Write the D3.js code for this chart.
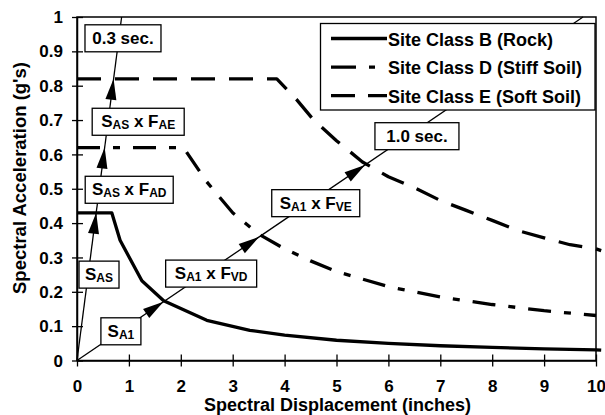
<!DOCTYPE html>
<html><head><meta charset="utf-8">
<script src="https://cdn.jsdelivr.net/npm/d3@7"></script>
<style>
html,body{margin:0;padding:0;background:#fff;}
svg{display:block;font-family:"Liberation Sans",Arial,Helvetica,sans-serif;font-weight:bold;}
</style></head><body>
<svg id="chart" width="605" height="415"></svg>
<script>
// ---------- data ----------
const xTicks = [0,1,2,3,4,5,6,7,8,9,10];
const yTicks = [0,0.1,0.2,0.3,0.4,0.5,0.6,0.7,0.8,0.9,1];
const yTickLabels = ["0","0.1","0.2","0.3","0.4","0.5","0.6","0.7","0.8","0.9","1"];

const seriesNames = ["Site Class B (Rock)","Site Class D (Stiff Soil)","Site Class E (Soft Soil)"];

// Site Class B (Rock)
const rockSd = [0,0.67,0.83,1.25,1.67,2.5,3.33,4,5,6,7,8,9,10,10.1];
const rockSa = [0.43,0.43,0.35,0.232,0.174,0.117,0.088,0.074,0.059,0.05,0.043,0.038,0.034,0.031,0.03];
// Site Class D (Stiff Soil)
const stiffSd = [0,2.05,2.5,3,3.5,4,4.5,5,6,7,8,9,10];
const stiffSa = [0.62,0.62,0.52,0.43,0.368,0.325,0.29,0.259,0.215,0.185,0.163,0.145,0.131];
// Site Class E (Soft Soil)
const softSd = [0,3.85,4.24,4.56,5,5.5,6,6.5,7,7.5,8,8.5,9,9.5,10,10.1];
const softSa = [0.82,0.82,0.758,0.70,0.64,0.578,0.535,0.503,0.466,0.437,0.408,0.378,0.357,0.337,0.325,0.32];

// constant-period radial lines
const period03Sd = [0,0.86];
const period03Sa = [0,1.0];
const period10Sd = [0,9.75];
const period10Sa = [0,1.0];

// arrow tips (on the period lines)
const arrowSd = [0.37,0.533,0.705,1.667,3.51,5.55];
const arrowSa = [0.43,0.62,0.82,0.171,0.36,0.569];

// annotation labels (text, anchor in data units)
const annoText = ["0.3 sec.","S_{AS} x F_{AE}","S_{AS} x F_{AD}","S_{AS}","S_{A1}","S_{A1} x F_{VD}","S_{A1} x F_{VE}","1.0 sec."];
const annoSd   = [0.886,1.179,1.006,0.424,0.846,2.585,4.6,6.55];
const annoSa   = [0.938,0.695,0.497,0.25,0.085,0.253,0.458,0.653];
const annoBoxW = [76,92,88,40,40,91,88,84];

// ---------- layout ----------
const svg = d3.select("#chart");
const L = 77, R = 596, T = 17, B = 360.5;
const x = d3.scaleLinear().domain([0,10]).range([L,R]);
const y = d3.scaleLinear().domain([0,1]).range([B,T]);

// frame
svg.append("rect").attr("x",L).attr("y",T).attr("width",R-L).attr("height",B-T)
  .attr("fill","none").attr("stroke","#000").attr("stroke-width",1.5);

// x axis
const gx = svg.append("g").attr("transform",`translate(0,${B})`)
  .call(d3.axisBottom(x).tickValues(xTicks).tickFormat(d3.format("d")).tickSizeOuter(0));
gx.attr("font-family",null).attr("font-size",null);
gx.select(".domain").attr("stroke-width",1.5);
gx.selectAll(".tick line").attr("y1",-6).attr("y2",6).attr("stroke-width",1.3);
gx.selectAll(".tick text").attr("y",31).attr("dy",0)
  .attr("font-size",17).attr("font-weight","bold").attr("fill","#000");

// y axis
const gy = svg.append("g").attr("transform",`translate(${L},0)`)
  .call(d3.axisLeft(y).tickValues(yTicks).tickFormat((d,i)=>yTickLabels[i]).tickSizeOuter(0));
gy.attr("font-family",null).attr("font-size",null);
gy.select(".domain").attr("stroke-width",1.5);
gy.selectAll(".tick line").attr("x1",6).attr("x2",-5).attr("stroke-width",1.3);
gy.selectAll(".tick text").attr("x",-14).attr("dy","0.33em")
  .attr("font-size",17).attr("font-weight","bold").attr("fill","#000");

// axis titles
svg.append("text").attr("x",(L+R)/2+1).attr("y",411.2).attr("text-anchor","middle")
  .attr("font-size",18).text("Spectral Displacement (inches)");
svg.append("text").attr("transform",`translate(25.5,${178}) rotate(-90)`).attr("text-anchor","middle")
  .attr("font-size",18.5).text("Spectral Acceleration (g's)");

// helper
const zip = (a,b)=>a.map((v,i)=>[v,b[i]]);
const line = d3.line().x(d=>x(d[0])).y(d=>y(d[1]));

// period lines
[[period03Sd,period03Sa],[period10Sd,period10Sa]].forEach(([sd,sa])=>{
  svg.append("path").attr("d",line(zip(sd,sa))).attr("fill","none")
    .attr("stroke","#000").attr("stroke-width",1.3);
});

// spectra
const styles = [
  {dash:null, w:3.3},
  {dash:"23,13,7,13", w:3.3},
  {dash:"24,14", w:3.3}
];
[[rockSd,rockSa],[stiffSd,stiffSa],[softSd,softSa]].forEach(([sd,sa],i)=>{
  svg.append("path").attr("d",line(zip(sd,sa))).attr("fill","none")
    .attr("stroke","#000").attr("stroke-width",styles[i].w)
    .attr("stroke-dasharray",styles[i].dash).attr("stroke-linejoin","round");
});

// arrowheads
const ox = x(0), oy = y(0);
arrowSd.forEach((sd,i)=>{
  const tx = x(sd), ty = y(arrowSa[i]);
  const dx = tx-ox, dy = ty-oy, len = Math.hypot(dx,dy);
  const ux = dx/len, uy = dy/len, hl = 21, hw = 5.5;
  const bx = tx-ux*hl, by = ty-uy*hl;
  const pts = [[tx,ty],[bx-uy*hw,by+ux*hw],[bx+uy*hw,by-ux*hw]];
  svg.append("path").attr("d","M"+pts.map(p=>p.join(",")).join("L")+"Z").attr("fill","#000");
});

// annotation boxes
function addRich(textSel, str, big, small){
  const re = /_\{([^}]*)\}/g; let last=0, m, shifted=false;
  while((m=re.exec(str))!==null){
    if(m.index>last){
      const t=textSel.append("tspan").attr("font-size",big).text(str.slice(last,m.index));
      if(shifted){t.attr("dy",-2); shifted=false;}
    }
    textSel.append("tspan").attr("font-size",small).attr("dy",shifted?0:2).text(m[1]);
    shifted=true; last=re.lastIndex;
  }
  if(last<str.length){
    const t=textSel.append("tspan").attr("font-size",big).text(str.slice(last));
    if(shifted) t.attr("dy",-2);
  }
}
annoText.forEach((s,i)=>{
  const cx = x(annoSd[i]), cy = y(annoSa[i]), w = annoBoxW[i], h = 27;
  svg.append("rect").attr("x",cx-w/2).attr("y",cy-h/2).attr("width",w).attr("height",h)
    .attr("fill","#fff").attr("stroke","#000").attr("stroke-width",1.3);
  const t = svg.append("text").attr("x",cx).attr("y",cy+5.5).attr("text-anchor","middle");
  addRich(t,s,17,12);
});

// legend
const lg = svg.append("g");
lg.append("rect").attr("x",320.5).attr("y",23.5).attr("width",274.5).attr("height",86.5)
  .attr("fill","#fff").attr("stroke","#000").attr("stroke-width",1.3);
const legDash = [null,"25,13,6,20","24,13"];
seriesNames.forEach((n,i)=>{
  const ly = 38.5 + i*28.6;
  lg.append("line").attr("x1",331).attr("x2",387).attr("y1",ly).attr("y2",ly)
    .attr("stroke","#000").attr("stroke-width",3.3).attr("stroke-dasharray",legDash[i]);
  lg.append("text").attr("x",388).attr("y",ly+7).attr("font-size",18).text(n);
});
</script>
</body></html>
